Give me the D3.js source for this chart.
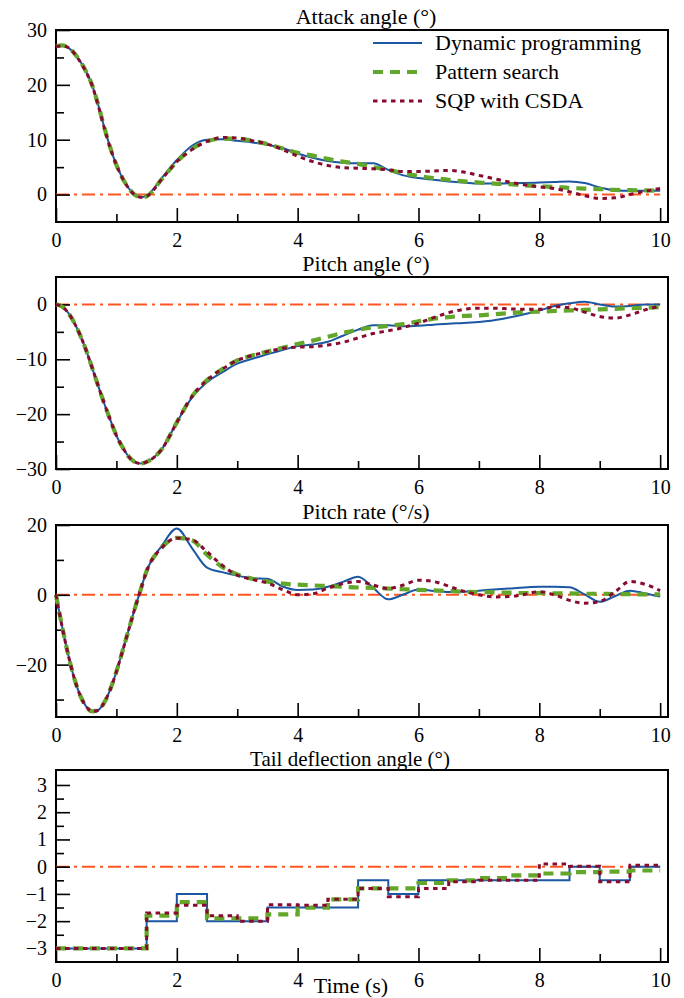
<!DOCTYPE html>
<html>
<head>
<meta charset="utf-8">
<script src="https://cdn.jsdelivr.net/npm/d3@7"></script>
<style>
  body { margin: 0; background: #fff; }
  svg text { font-family: "Liberation Serif", "DejaVu Serif", "Times New Roman", Times, serif; fill: #000; }
</style>
</head>
<body>
<svg id="chart" width="684" height="998"></svg>
<script>
// time grid (s) shared by the three smooth panels
const time = [0, 0.1, 0.2, 0.3, 0.4, 0.5, 0.6, 0.7, 0.8, 0.9, 1.0, 1.1, 1.2, 1.3, 1.4, 1.5,
  1.75, 2.0, 2.25, 2.5, 2.75, 3.0, 3.25, 3.5, 3.75, 4.0, 4.25, 4.5, 4.75, 5.0, 5.25, 5.5, 5.75,
  6.0, 6.25, 6.5, 6.75, 7.0, 7.25, 7.5, 7.75, 8.0, 8.25, 8.5, 8.75, 9.0, 9.25, 9.5, 9.75, 10.0];

// attack angle (deg)
const attackDP = [27.0, 27.2, 26.8, 25.8, 24.3, 22.4, 19.9, 16.3, 12.2, 8.5, 5.4, 3.0, 1.2, 0.0, -0.5, -0.2,
  3.0, 6.3, 8.9, 10.0, 10.1, 9.8, 9.5, 9.1, 8.5, 7.5, 6.7, 6.1, 5.8, 5.7, 5.7, 4.5, 3.5,
  3.0, 2.7, 2.4, 2.2, 2.0, 2.0, 2.05, 2.1, 2.2, 2.3, 2.4, 2.1, 1.3, 0.8, 0.7, 0.7, 0.7];
const attackPS = [27.0, 27.2, 26.8, 25.8, 24.3, 22.4, 19.9, 16.3, 12.2, 8.5, 5.4, 3.0, 1.2, 0.0, -0.5, -0.3,
  2.8, 6.0, 8.3, 9.7, 10.2, 10.2, 9.8, 9.2, 8.4, 7.6, 7.1, 6.5, 6.0, 5.6, 5.0, 4.5, 3.9,
  3.4, 3.0, 2.7, 2.4, 2.2, 2.0, 1.9, 1.7, 1.5, 1.4, 1.2, 1.1, 1.0, 0.85, 0.8, 0.75, 0.7];
const attackSQP = [27.0, 27.1, 26.8, 25.8, 24.2, 22.3, 19.8, 16.2, 12.1, 8.4, 5.4, 3.0, 1.2, 0.0, -0.5, -0.3,
  2.8, 6.0, 8.2, 9.7, 10.4, 10.3, 9.8, 9.2, 8.2, 7.0, 6.0, 5.3, 4.9, 4.8, 4.7, 4.5, 4.2,
  4.2, 4.3, 4.4, 4.1, 3.5, 2.9, 2.3, 1.8, 1.4, 1.1, 0.5, -0.2, -0.7, -0.6, 0.0, 0.6, 1.1];

// pitch angle (deg)
const pitchDP = [0, -0.4, -1.5, -3.3, -5.6, -8.4, -11.6, -14.9, -18.1, -21.1, -23.9, -26.0, -27.7, -28.7, -29.0, -28.7,
  -26.4, -21.5, -17.0, -14.2, -12.4, -10.8, -9.9, -9.1, -8.3, -7.6, -7.3, -6.8, -5.7, -4.6, -3.8, -3.8, -4.0,
  -3.9, -3.7, -3.5, -3.4, -3.2, -2.9, -2.4, -1.8, -1.1, -0.3, 0.2, 0.5, 0.0, -0.4, -0.3, 0.0, 0.0];
const pitchPS = [0, -0.4, -1.5, -3.3, -5.6, -8.4, -11.6, -14.9, -18.1, -21.1, -23.9, -26.0, -27.7, -28.7, -29.0, -28.7,
  -26.4, -21.5, -16.8, -13.8, -11.8, -10.2, -9.3, -8.6, -7.9, -7.2, -6.6, -5.9, -5.2, -4.6, -4.2, -3.9, -3.6,
  -3.1, -2.6, -2.3, -2.1, -2.0, -1.8, -1.6, -1.4, -1.3, -1.2, -1.1, -1.0, -0.9, -0.8, -0.7, -0.6, -0.5];
const pitchSQP = [0, -0.4, -1.5, -3.3, -5.6, -8.4, -11.6, -14.9, -18.1, -21.1, -23.9, -26.0, -27.7, -28.7, -29.0, -28.7,
  -26.4, -21.5, -16.8, -13.8, -11.8, -10.2, -9.3, -8.6, -8.0, -7.8, -7.7, -7.4, -6.9, -6.1, -5.3, -4.8, -4.2,
  -3.4, -2.4, -1.5, -0.9, -0.7, -0.7, -0.8, -0.9, -0.9, -0.4, -0.6, -1.4, -2.2, -2.5, -1.9, -1.0, -0.3];

// pitch rate (deg/s)
const rateDP = [0, -9.0, -17.0, -23.8, -28.8, -32.0, -33.4, -33.0, -30.8, -27.0, -22.0, -16.2, -10.2, -4.2, 1.4, 6.8,
  14.0, 19.0, 13.4, 7.8, 6.5, 5.5, 4.8, 4.6, 2.4, 1.4, 1.5, 2.3, 3.7, 5.2, 2.0, -1.3, 0.1,
  1.5, 1.1, 0.8, 0.9, 1.2, 1.5, 1.8, 2.1, 2.3, 2.3, 2.2, 0.1, -2.0, -0.4, 1.2, 0.4, -0.5];
const ratePS = [0, -9.0, -17.0, -23.8, -28.8, -32.0, -33.4, -33.0, -30.8, -27.0, -22.0, -16.2, -10.2, -4.2, 1.4, 6.8,
  13.5, 16.3, 15.6, 11.5, 8.0, 5.8, 4.6, 3.8, 3.2, 2.9, 2.7, 2.5, 2.3, 2.1, 2.0, 1.8, 1.6,
  1.4, 1.3, 1.1, 0.9, 0.8, 0.7, 0.6, 0.5, 0.5, 0.4, 0.4, 0.3, 0.3, 0.2, 0.2, 0.1, 0.1];
const rateSQP = [0, -9.0, -17.0, -23.8, -28.8, -32.0, -33.4, -33.0, -30.8, -27.0, -22.0, -16.2, -10.2, -4.2, 1.4, 6.8,
  13.5, 16.2, 15.8, 12.3, 8.5, 5.6, 4.4, 3.4, 1.5, 0.0, 0.3, 1.9, 3.2, 3.8, 2.8, 1.8, 2.8,
  4.2, 3.8, 2.5, 1.0, 0.0, -0.6, -0.5, 0.1, 0.9, 0.0, -1.6, -2.4, -1.9, 0.8, 3.8, 3.0, 1.2];

// tail deflection angle (deg), piecewise constant
const tailTime = [0, 1.5, 2, 2.5, 3, 3.5, 4, 4.5, 5, 5.5, 6, 6.5, 7, 7.5, 8, 8.5, 9, 9.5, 10];
const tailDP = [-3, -2, -1, -2, -2, -1.5, -1.5, -1.5, -0.5, -1, -0.5, -0.5, -0.5, -0.5, -0.5, 0, -0.5, 0, 0];
const tailPS = [-3, -1.8, -1.3, -1.9, -1.9, -1.75, -1.5, -1.2, -0.8, -0.8, -0.6, -0.5, -0.42, -0.32, -0.25, -0.2, -0.18, -0.14, -0.14];
const tailSQP = [-3, -1.7, -1.42, -1.8, -2.0, -1.4, -1.42, -1.2, -0.8, -1.1, -0.8, -0.55, -0.5, -0.5, 0.1, 0.02, -0.55, 0.05, 0.05];

// reference (zero) line
const refTime = [0, 10];
const refValue = [0, 0];

const seriesNames = ['Dynamic programming', 'Pattern search', 'SQP with CSDA'];
const xMajorTicks = [0, 2, 4, 6, 8, 10];
const xMinorTicks = [1, 3, 5, 7, 9];

const svg = d3.select('#chart');
const left = 56, right = 668, plotH = 192;
const serif = '"Liberation Serif", "DejaVu Serif", "Times New Roman", Times, serif';

const styles = [
  { color: '#1b57a2', width: 2, dash: null },
  { color: '#63a72a', width: 4.2, dash: '10,7' },
  { color: '#880b2f', width: 3, dash: '4.5,4.5' }
];
const refStyle = { color: '#ff5722', width: 2, dash: '13,5,3,5' };

const x = d3.scaleLinear().domain([0, 10.13]).range([left, right]);

const panels = [
  { title: 'Attack angle (°)', titleX: 366, titleY: 24, titleSize: 22, top: 30, domain: [-5, 30],
    major: [0, 10, 20, 30], minor: [5, 15, 25],
    t: time, series: [attackDP, attackPS, attackSQP], curve: d3.curveMonotoneX },
  { title: 'Pitch angle (°)', titleX: 366, titleY: 271, titleSize: 22, top: 277, domain: [-30, 5],
    major: [-30, -20, -10, 0], minor: [-25, -15, -5],
    t: time, series: [pitchDP, pitchPS, pitchSQP], curve: d3.curveMonotoneX },
  { title: 'Pitch rate (°/s)', titleX: 366, titleY: 519, titleSize: 22, top: 525, domain: [-35, 20],
    major: [-20, 0, 20], minor: [-30, -10, 10],
    t: time, series: [rateDP, ratePS, rateSQP], curve: d3.curveMonotoneX },
  { title: 'Tail deflection angle (°)', titleX: 350, titleY: 766, titleSize: 21, top: 770, domain: [-3.5, 3.55],
    major: [-3, -2, -1, 0, 1, 2, 3], minor: [-2.5, -1.5, -0.5, 0.5, 1.5, 2.5],
    t: tailTime, series: [tailDP, tailPS, tailSQP], curve: d3.curveStepAfter }
];

function styleAxis(g) {
  g.select('.domain').remove();
  g.attr('font-family', null).attr('font-size', null);
  g.selectAll('text').style('font-family', serif).style('font-size', '20px');
  g.selectAll('.tick line').attr('stroke', '#000').attr('stroke-width', 1.6);
}

panels.forEach(p => {
  const y = d3.scaleLinear().domain(p.domain).range([p.top + plotH, p.top]);
  const g = svg.append('g');

  g.append('rect')
    .attr('x', left).attr('y', p.top)
    .attr('width', right - left).attr('height', plotH)
    .attr('fill', 'none').attr('stroke', '#000').attr('stroke-width', 2);

  // zero reference
  g.append('path')
    .datum(refTime.map((t, k) => [t, refValue[k]]))
    .attr('d', d3.line().x(d => x(d[0])).y(d => y(d[1])))
    .attr('fill', 'none')
    .attr('stroke', refStyle.color)
    .attr('stroke-width', refStyle.width)
    .attr('stroke-dasharray', refStyle.dash);

  // y axis, ticks pointing inward
  g.append('g').attr('transform', `translate(${left},0)`)
    .call(d3.axisLeft(y).tickValues(p.major).tickFormat(d3.format('d'))
      .tickSizeInner(-14).tickSizeOuter(0).tickPadding(9))
    .call(styleAxis);
  g.append('g').attr('transform', `translate(${left},0)`)
    .call(d3.axisLeft(y).tickValues(p.minor).tickFormat('').tickSizeInner(-8).tickSizeOuter(0))
    .call(styleAxis);

  // x axis
  g.append('g').attr('transform', `translate(0,${p.top + plotH})`)
    .call(d3.axisBottom(x).tickValues(xMajorTicks).tickFormat(d3.format('d'))
      .tickSizeInner(-14).tickSizeOuter(0).tickPadding(11))
    .call(styleAxis);
  g.append('g').attr('transform', `translate(0,${p.top + plotH})`)
    .call(d3.axisBottom(x).tickValues(xMinorTicks).tickFormat('').tickSizeInner(-8).tickSizeOuter(0))
    .call(styleAxis);

  const line = d3.line().x(d => x(d[0])).y(d => y(d[1])).curve(p.curve);
  p.series.forEach((vals, s) => {
    g.append('path')
      .datum(p.t.map((t, k) => [t, vals[k]]))
      .attr('d', line)
      .attr('fill', 'none')
      .attr('stroke', styles[s].color)
      .attr('stroke-width', styles[s].width)
      .attr('stroke-dasharray', styles[s].dash);
  });

  g.append('text')
    .attr('x', p.titleX).attr('y', p.titleY)
    .attr('text-anchor', 'middle')
    .style('font-family', serif)
    .style('font-size', p.titleSize + 'px')
    .text(p.title);
});

// legend in the first panel
const legend = svg.append('g');
seriesNames.forEach((name, s) => {
  const ly = 43 + s * 29;
  legend.append('line')
    .attr('x1', 373).attr('x2', 422).attr('y1', ly).attr('y2', ly)
    .attr('stroke', styles[s].color)
    .attr('stroke-width', styles[s].width)
    .attr('stroke-dasharray', styles[s].dash);
  legend.append('text')
    .attr('x', 435).attr('y', ly + 7)
    .style('font-family', serif)
    .style('font-size', '22px')
    .text(name);
});

svg.append('text')
  .attr('x', 351).attr('y', 993)
  .attr('text-anchor', 'middle')
  .style('font-family', serif)
  .style('font-size', '22px')
  .text('Time (s)');
</script>
</body>
</html>
